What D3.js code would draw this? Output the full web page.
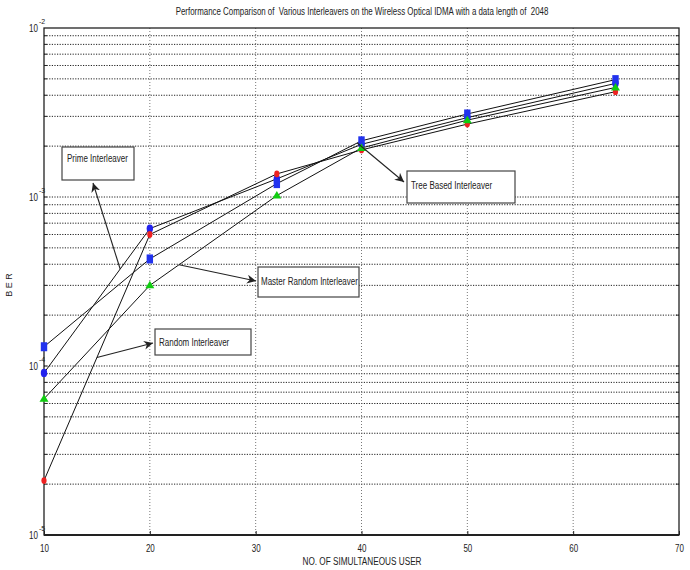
<!DOCTYPE html>
<html>
<head>
<meta charset="utf-8">
<script src="https://cdn.jsdelivr.net/npm/d3@7"></script>
<style>
  html, body { margin: 0; padding: 0; background: #fff; }
  svg { display: block; font-family: "Liberation Sans", Arial, sans-serif; }
  svg text { white-space: pre; }
</style>
</head>
<body>
<svg id="chart" width="690" height="570"></svg>
<script>
// Simultaneous users on the x axis
const users = [10, 20, 32, 40, 50, 64];

// Bit error rate per interleaver
const primeBER  = [9.1e-5, 6.5e-4, 1.28e-3, 2.05e-3, 2.95e-3, 4.7e-3];
const treeBER   = [1.3e-4, 4.3e-4, 1.2e-3, 2.15e-3, 3.1e-3, 4.95e-3];
const randomBER = [2.1e-5, 6.0e-4, 1.37e-3, 1.9e-3, 2.7e-3, 4.2e-3];
const masterBER = [6.4e-5, 3.0e-4, 1.02e-3, 1.95e-3, 2.85e-3, 4.45e-3];

const seriesNames = ["Prime Interleaver", "Tree Based Interleaver", "Random Interleaver", "Master Random Interleaver"];
const seriesColors = ["#2222ee", "#2233ee", "#ee2222", "#11cc11"];
const seriesMarkers = ["circle", "square", "circle", "triangle"];

const xTicks = [10, 20, 30, 40, 50, 60, 70];
const yDecades = [1e-5, 1e-4, 1e-3, 1e-2];
const yExponents = ["-5", "-4", "-3", "-2"];

const titleText = "Performance Comparison of  Various Interleavers on the Wireless Optical IDMA with a data length of  2048";
const xLabel = "NO. OF SIMULTANEOUS USER";
const yLabel = "B E R";

const seriesData = [primeBER, treeBER, randomBER, masterBER];

const svg = d3.select("#chart");
const x = d3.scaleLinear().domain([10, 70]).range([44, 679]);
const y = d3.scaleLog().domain([1e-5, 1e-2]).range([535, 28]);

// condensed lettering: squeeze each text run horizontally
function narrow(sel, f) {
  sel.each(function () {
    const w = this.getComputedTextLength();
    if (w > 0) d3.select(this).attr("textLength", w * f).attr("lengthAdjust", "spacingAndGlyphs");
  });
}

// arrowhead
svg.append("defs").append("marker")
  .attr("id", "arrow").attr("viewBox", "0 0 10 10")
  .attr("refX", 10).attr("refY", 5)
  .attr("markerWidth", 9).attr("markerHeight", 9)
  .attr("markerUnits", "userSpaceOnUse")
  .attr("orient", "auto")
  .append("path").attr("d", "M0,0 L10,5 L0,10 L3,5 Z").attr("fill", "#222");

// minor log grid values
const gridVals = [];
for (const d of [1e-5, 1e-4, 1e-3]) {
  for (let k = 1; k <= 9; k++) gridVals.push(d * k);
}
const innerGrid = gridVals.filter(v => v > 1e-5 && v < 1e-2);

const grid = svg.append("g");
grid.selectAll("line.h").data(innerGrid).join("line")
  .attr("x1", x(10)).attr("x2", x(70))
  .attr("y1", d => y(d)).attr("y2", d => y(d))
  .attr("stroke", "#222").attr("stroke-width", 1)
  .attr("stroke-dasharray", "1.2,1.4");
grid.selectAll("line.v").data(xTicks.slice(1, -1)).join("line")
  .attr("x1", d => x(d)).attr("x2", d => x(d))
  .attr("y1", y(1e-2)).attr("y2", y(1e-5))
  .attr("stroke", "#555").attr("stroke-width", 0.8)
  .attr("stroke-dasharray", "1,2");

// axis frame
svg.append("rect")
  .attr("x", x(10)).attr("y", y(1e-2))
  .attr("width", x(70) - x(10)).attr("height", y(1e-5) - y(1e-2))
  .attr("fill", "none").attr("stroke", "#222").attr("stroke-width", 1.3);
svg.append("line")
  .attr("x1", x(10)).attr("x2", x(70)).attr("y1", y(1e-5)).attr("y2", y(1e-5))
  .attr("stroke", "#222").attr("stroke-width", 2);

// x axis ticks and labels
const xAxis = d3.axisBottom(x).tickValues(xTicks).tickSize(-4).tickPadding(10).tickFormat(d3.format("d"));
const gx = svg.append("g").attr("transform", `translate(0,${y(1e-5)})`).call(xAxis);
gx.select(".domain").remove();
gx.selectAll("line").attr("stroke", "#222");
gx.selectAll("text").attr("font-size", 10).attr("fill", "#222")
  .attr("font-family", "'Liberation Sans', Arial, sans-serif");
narrow(gx.selectAll("text"), 0.8);

// y minor ticks on left and right edges
svg.append("g").selectAll("line").data(innerGrid).join("line")
  .attr("x1", x(10)).attr("x2", x(10) + 3)
  .attr("y1", d => y(d)).attr("y2", d => y(d))
  .attr("stroke", "#222");
svg.append("g").selectAll("line").data(innerGrid).join("line")
  .attr("x1", x(70)).attr("x2", x(70) - 3)
  .attr("y1", d => y(d)).attr("y2", d => y(d))
  .attr("stroke", "#222");

// y decade labels 10^n
const yl = svg.append("g").selectAll("g").data(yDecades).join("g")
  .attr("transform", d => `translate(${x(10) - 6},${y(d) + 4})`);
const yBase = yl.append("text").attr("text-anchor", "end").attr("font-size", 10).attr("fill", "#222").text("10");
narrow(yBase, 0.8);
yl.append("text").attr("x", 1).attr("y", -8).attr("font-size", 7).attr("fill", "#222")
  .text((d, i) => yExponents[i]);

// series lines
const line = d3.line().x((d, i) => x(users[i])).y(d => y(d));
svg.append("g").selectAll("path").data(seriesData).join("path")
  .attr("d", d => line(d))
  .attr("fill", "none").attr("stroke", "#111").attr("stroke-width", 1);

// markers
const mk = svg.append("g");
seriesData.forEach((vals, s) => {
  const g = mk.append("g");
  const pts = vals.map((v, i) => [x(users[i]), y(v)]);
  const shape = seriesMarkers[s];
  const col = seriesColors[s];
  if (shape === "circle") {
    g.selectAll("ellipse").data(pts).join("ellipse")
      .attr("cx", d => d[0]).attr("cy", d => d[1])
      .attr("rx", s === 2 ? 2.6 : 3.2).attr("ry", s === 2 ? 3.4 : 4.2)
      .attr("fill", col);
  } else if (shape === "square") {
    g.selectAll("rect").data(pts).join("rect")
      .attr("x", d => d[0] - 3.2).attr("y", d => d[1] - 4.5)
      .attr("width", 6.4).attr("height", 9)
      .attr("fill", col);
  } else {
    g.selectAll("path").data(pts).join("path")
      .attr("d", d => `M${d[0]},${d[1] - 4.5} L${d[0] + 4.5},${d[1] + 3} L${d[0] - 4.5},${d[1] + 3} Z`)
      .attr("fill", col);
  }
});

// annotation boxes; each arrow starts on its curve (segment index, fraction along it)
const notes = [
  { s: 0, box: [62, 147, 72, 33], tx: 5, ty: 15, seg: 0, frac: 0.72, head: [93, 183] },
  { s: 1, box: [407, 171, 108, 32], tx: 4, ty: 18, seg: 2, frac: 0.95, head: [404, 182] },
  { s: 3, box: [258, 267, 101, 30], tx: 3, ty: 18, seg: 1, frac: 0.23, head: [256, 281] },
  { s: 2, box: [155, 329, 96, 26], tx: 4, ty: 17, seg: 0, frac: 0.5, head: [153, 343] }
];
const ann = svg.append("g");
notes.forEach(n => {
  const vals = seriesData[n.s];
  const p0 = [x(users[n.seg]), y(vals[n.seg])];
  const p1 = [x(users[n.seg + 1]), y(vals[n.seg + 1])];
  const tx = p0[0] + (p1[0] - p0[0]) * n.frac;
  const ty = p0[1] + (p1[1] - p0[1]) * n.frac;
  ann.append("line")
    .attr("x1", tx).attr("y1", ty).attr("x2", n.head[0]).attr("y2", n.head[1])
    .attr("stroke", "#222").attr("stroke-width", 1.1)
    .attr("marker-end", "url(#arrow)");
  const [bx, by, bw, bh] = n.box;
  ann.append("rect").attr("x", bx).attr("y", by).attr("width", bw).attr("height", bh)
    .attr("fill", "#fff").attr("stroke", "#444").attr("stroke-width", 1.2);
  const t = ann.append("text").attr("x", bx + n.tx).attr("y", by + n.ty)
    .attr("font-size", 10).attr("fill", "#222").text(seriesNames[n.s]);
  narrow(t, 0.8);
});

// title and axis labels
const title = svg.append("text").attr("x", 362).attr("y", 15).attr("text-anchor", "middle")
  .attr("font-size", 10).attr("fill", "#222").text(titleText);
narrow(title, 0.79);
const xl = svg.append("text").attr("x", 362).attr("y", 565).attr("text-anchor", "middle")
  .attr("font-size", 10).attr("fill", "#222").text(xLabel);
narrow(xl, 0.82);
svg.append("text").attr("transform", "translate(12,285) rotate(-90)").attr("text-anchor", "middle")
  .attr("font-size", 9).attr("fill", "#222").text(yLabel);
</script>
</body>
</html>
